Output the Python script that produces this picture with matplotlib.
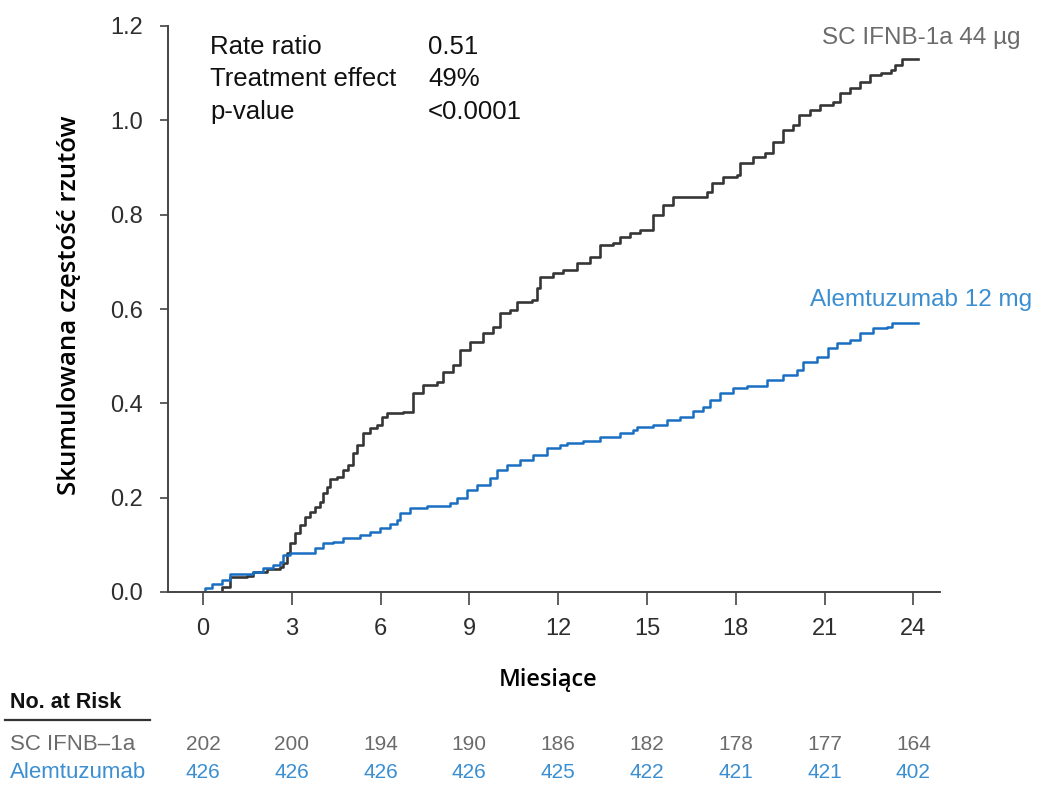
import matplotlib
matplotlib.use("Agg")
import matplotlib.pyplot as plt
import matplotlib.transforms as mtransforms
from matplotlib.lines import Line2D

# ---- data ----
ifnb_months = [0.0, 0.47, 0.64, 0.91, 1.49, 1.69, 2.16, 2.60, 2.70, 2.84, 2.94, 3.11, 3.28,
               3.45, 3.62, 3.79, 3.96, 4.06, 4.19, 4.29, 4.53, 4.73, 4.90, 5.07, 5.21, 5.41,
               5.65, 5.88, 6.05, 6.22, 6.76, 7.10, 7.44, 7.91, 8.11, 8.45, 8.69, 9.03, 9.47,
               9.80, 10.04, 10.38, 10.62, 11.12, 11.29, 11.39, 11.83, 12.17, 12.64, 13.08,
               13.42, 13.86, 14.10, 14.44, 14.77, 15.21, 15.55, 15.89, 17.04, 17.21, 17.58,
               18.05, 18.15, 18.59, 19.00, 19.27, 19.61, 19.95, 20.12, 20.52, 20.86, 21.30,
               21.53, 21.87, 22.21, 22.55, 22.89, 23.23, 23.39, 23.63, 24.14]
ifnb_rate = [0.0, 0.0, 0.010, 0.032, 0.034, 0.042, 0.049, 0.053, 0.062, 0.083, 0.104, 0.125,
             0.142, 0.159, 0.170, 0.180, 0.190, 0.210, 0.223, 0.240, 0.244, 0.259, 0.269, 0.295,
             0.312, 0.337, 0.348, 0.354, 0.371, 0.380, 0.382, 0.422, 0.439, 0.445, 0.466, 0.481,
             0.513, 0.530, 0.549, 0.562, 0.591, 0.598, 0.615, 0.619, 0.644, 0.668, 0.676, 0.683,
             0.697, 0.710, 0.736, 0.740, 0.753, 0.761, 0.767, 0.799, 0.820, 0.837, 0.848, 0.867,
             0.880, 0.884, 0.909, 0.922, 0.931, 0.954, 0.979, 0.990, 1.011, 1.022, 1.032, 1.039,
             1.058, 1.068, 1.081, 1.096, 1.100, 1.107, 1.117, 1.130, 1.130]

alem_months = [0.0, 0.07, 0.30, 0.51, 0.64, 0.91, 1.35, 1.69, 2.03, 2.37, 2.60, 2.70, 2.94,
               3.52, 3.79, 4.06, 4.39, 4.73, 5.31, 5.65, 5.98, 6.32, 6.56, 6.66, 7.00, 7.57,
               8.35, 8.59, 8.93, 9.26, 9.70, 9.94, 10.28, 10.72, 11.16, 11.63, 12.07, 12.31,
               12.85, 13.42, 14.10, 14.54, 14.67, 15.21, 15.69, 16.13, 16.57, 16.90, 17.14,
               17.48, 17.92, 18.39, 19.07, 19.61, 20.08, 20.28, 20.76, 21.10, 21.43, 21.87,
               22.21, 22.65, 23.12, 23.29, 24.17]
alem_rate = [0.0, 0.008, 0.017, 0.017, 0.025, 0.038, 0.038, 0.042, 0.051, 0.057, 0.064, 0.078,
             0.083, 0.083, 0.093, 0.104, 0.106, 0.114, 0.121, 0.127, 0.136, 0.144, 0.153, 0.167,
             0.178, 0.182, 0.188, 0.199, 0.216, 0.227, 0.242, 0.259, 0.269, 0.280, 0.290, 0.305,
             0.312, 0.316, 0.320, 0.329, 0.337, 0.343, 0.350, 0.354, 0.365, 0.371, 0.384, 0.392,
             0.407, 0.422, 0.432, 0.437, 0.449, 0.460, 0.471, 0.488, 0.498, 0.517, 0.528, 0.534,
             0.549, 0.560, 0.562, 0.570, 0.570]

x_ticks = [0, 3, 6, 9, 12, 15, 18, 21, 24]
y_ticks = [0.0, 0.2, 0.4, 0.6, 0.8, 1.0, 1.2]
risk_ifnb = [202, 200, 194, 190, 186, 182, 178, 177, 164]
risk_alem = [426, 426, 426, 426, 425, 422, 421, 421, 402]

stats_labels = ["Rate ratio", "Treatment effect", "p-value"]
stats_values = ["0.51", "49%", "<0.0001"]

# ---- style ----
GRAY_LINE = "#363636"
BLUE_LINE = "#1a6fc2"
GRAY_TEXT = "#6b6b6b"
BLUE_TEXT = "#3b8fd1"
TICK_TXT = "#2e2e2e"
FONT = "Liberation Sans"
LBL_FONT = "Open Sans"

fig = plt.figure(figsize=(10.37, 7.87), dpi=100)
ax = fig.add_axes([168 / 1037, 1 - 592 / 787, (940 - 168) / 1037, (592 - 26) / 787])

ax.plot(ifnb_months, ifnb_rate, drawstyle="steps-post", color=GRAY_LINE, lw=1.9)
ax.plot(alem_months, alem_rate, drawstyle="steps-post", color=BLUE_LINE, lw=1.8)

ax.set_xlim(-1.18, 24.9)
ax.set_ylim(0, 1.2)
ax.set_xticks(x_ticks)
ax.set_yticks(y_ticks)
ax.set_xticklabels([str(t) for t in x_ticks], fontsize=17, family=FONT, color=TICK_TXT)
ax.set_yticklabels([f"{t:.1f}" for t in y_ticks], fontsize=17, family=FONT, color=TICK_TXT)
ax.tick_params(axis="x", direction="out", length=9, width=1.2, color="#444444", pad=10)
ax.tick_params(axis="y", direction="out", length=6, width=1.2, color="#444444", pad=12)
for s in ["top", "right"]:
    ax.spines[s].set_visible(False)
for s in ["left", "bottom"]:
    ax.spines[s].set_color("#444444")
    ax.spines[s].set_linewidth(1.4)

fig.text(70 / 1037, 1 - 305 / 787, "Skumulowana częstość rzutów", rotation=90,
         ha="center", va="center", fontsize=18.5, family=LBL_FONT,
         fontweight="semibold", color="black")
fig.text(548 / 1037, 1 - 680 / 787, "Miesiące", ha="center", va="center",
         fontsize=17, family=LBL_FONT, fontweight="semibold", color="black")

# stats box
for i, (lab, val) in enumerate(zip(stats_labels, stats_values)):
    y = 1 - (47 + 32.5 * i) / 787
    fig.text(210 / 1037, y, lab, ha="left", va="center", fontsize=18.5, family=FONT, color="#111111")
    fig.text(428 / 1037, y, val, ha="left", va="center", fontsize=18.5, family=FONT, color="#111111")

# series labels
fig.text(1020 / 1037, 1 - 38 / 787, "SC IFNB-1a 44 µg", ha="right", va="center",
         fontsize=17.5, family=FONT, color=GRAY_TEXT)
fig.text(1032 / 1037, 1 - 300 / 787, "Alemtuzumab 12 mg", ha="right", va="center",
         fontsize=17.5, family=FONT, color=BLUE_TEXT)

# number at risk table
trans = mtransforms.blended_transform_factory(ax.transData, fig.transFigure)
fig.text(10 / 1037, 1 - 703 / 787, "No. at Risk", ha="left", va="center",
         fontsize=15.5, family=FONT, fontweight="bold", color="#111111")
fig.add_artist(Line2D([5 / 1037, 150 / 1037], [1 - 720 / 787, 1 - 720 / 787],
                      transform=fig.transFigure, color="#333333", lw=1.6))
fig.text(10 / 1037, 1 - 745 / 787, "SC IFNB\u20131a", ha="left", va="center",
         fontsize=16, family=FONT, color=GRAY_TEXT)
fig.text(10 / 1037, 1 - 773 / 787, "Alemtuzumab", ha="left", va="center",
         fontsize=16, family=FONT, color=BLUE_TEXT)
for xt, a, b in zip(x_ticks, risk_ifnb, risk_alem):
    ax.text(xt, 1 - 745 / 787, str(a), transform=trans, ha="center", va="center",
            fontsize=15, family=FONT, color=GRAY_TEXT, clip_on=False)
    ax.text(xt, 1 - 773 / 787, str(b), transform=trans, ha="center", va="center",
            fontsize=15, family=FONT, color=BLUE_TEXT, clip_on=False)

fig.savefig("out.png", dpi=100)
